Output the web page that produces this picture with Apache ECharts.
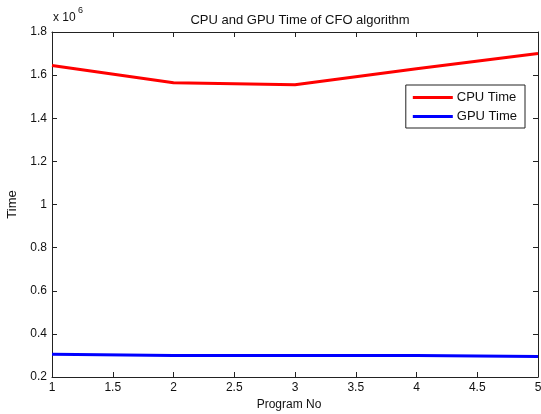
<!DOCTYPE html>
<html>
<head>
<meta charset="utf-8">
<script src="https://cdn.jsdelivr.net/npm/echarts@6/dist/echarts.min.js"></script>
<style>
  html, body { margin: 0; padding: 0; background: #fff; }
  #chart { width: 541px; height: 414px; }
</style>
</head>
<body>
<div id="chart"></div>
<script>
// program numbers on the x axis
const programNo = [1, 2, 3, 4, 5]
// times (in raw units, axis shows x 10^6)
const cpuTime = [1645000, 1565000, 1555000, 1630000, 1700000]
const gpuTime = [305000, 300000, 300000, 300000, 295000]

const font = 'Liberation Sans, Arial, sans-serif'
const axisLine = { lineStyle: { color: '#222', width: 1 } }

const chart = echarts.init(document.getElementById('chart'))

const option = {
  animation: false,
  textStyle: { fontFamily: font },
  title: {
    text: 'CPU and GPU Time of CFO algorithm',
    left: 295,
    top: 9,
    textAlign: 'center',
    textStyle: { fontSize: 13, fontWeight: 'normal', color: '#111', fontFamily: font }
  },
  graphic: [{
    type: 'text',
    left: 53,
    top: 12,
    style: { text: 'x 10', font: '12px ' + font, fill: '#111' }
  }, {
    type: 'text',
    left: 78,
    top: 6,
    style: { text: '6', font: '9px ' + font, fill: '#111' }
  }],
  legend: {
    orient: 'vertical',
    right: 16,
    top: 85,
    padding: [6, 8, 5, 7],
    itemGap: 6,
    itemWidth: 40,
    itemHeight: 3,
    borderColor: '#222',
    borderWidth: 1,
    borderRadius: 0,
    backgroundColor: '#fff',
    textStyle: { fontSize: 13, color: '#111', fontFamily: font, padding: [0, 0, 0, -1] },
    data: [{ name: 'CPU Time', icon: 'rect' }, { name: 'GPU Time', icon: 'rect' }]
  },
  grid: { left: 52, right: 3, top: 32, bottom: 37, containLabel: false, outerBoundsMode: 'none' },
  xAxis: [{
    type: 'value',
    min: 1, max: 5, interval: 0.5,
    name: 'Program No',
    nameLocation: 'middle',
    nameGap: 22,
    nameTextStyle: { fontSize: 12, color: '#111', padding: [0, 12, 0, 0] },
    axisLine: axisLine,
    axisTick: { inside: true, length: 5, lineStyle: { color: '#222' } },
    axisLabel: { fontSize: 12, color: '#111', margin: 5 },
    splitLine: { show: false }
  }, {
    type: 'value',
    position: 'top',
    min: 1, max: 5, interval: 0.5,
    axisLine: axisLine,
    axisTick: { inside: true, length: 5, lineStyle: { color: '#222' } },
    axisLabel: { show: false },
    splitLine: { show: false }
  }],
  yAxis: [{
    type: 'value',
    min: 200000, max: 1800000, interval: 200000,
    name: 'Time',
    nameLocation: 'middle',
    nameGap: 28,
    nameTextStyle: { fontSize: 13, color: '#111' },
    axisLine: axisLine,
    axisTick: { inside: true, length: 5, lineStyle: { color: '#222' } },
    axisLabel: {
      fontSize: 12, color: '#111', margin: 5,
      formatter: v => String(Math.round(v / 100000) / 10)
    },
    splitLine: { show: false }
  }, {
    type: 'value',
    position: 'right',
    min: 200000, max: 1800000, interval: 200000,
    axisLine: axisLine,
    axisTick: { inside: true, length: 5, lineStyle: { color: '#222' } },
    axisLabel: { show: false },
    splitLine: { show: false }
  }],
  series: [{
    name: 'CPU Time',
    type: 'line',
    data: programNo.map((x, i) => [x, cpuTime[i]]),
    symbol: 'none',
    color: '#ff0000',
    lineStyle: { width: 3 }
  }, {
    name: 'GPU Time',
    type: 'line',
    data: programNo.map((x, i) => [x, gpuTime[i]]),
    symbol: 'none',
    color: '#0000ff',
    lineStyle: { width: 3 }
  }]
}
chart.setOption(option)
</script>
</body>
</html>
